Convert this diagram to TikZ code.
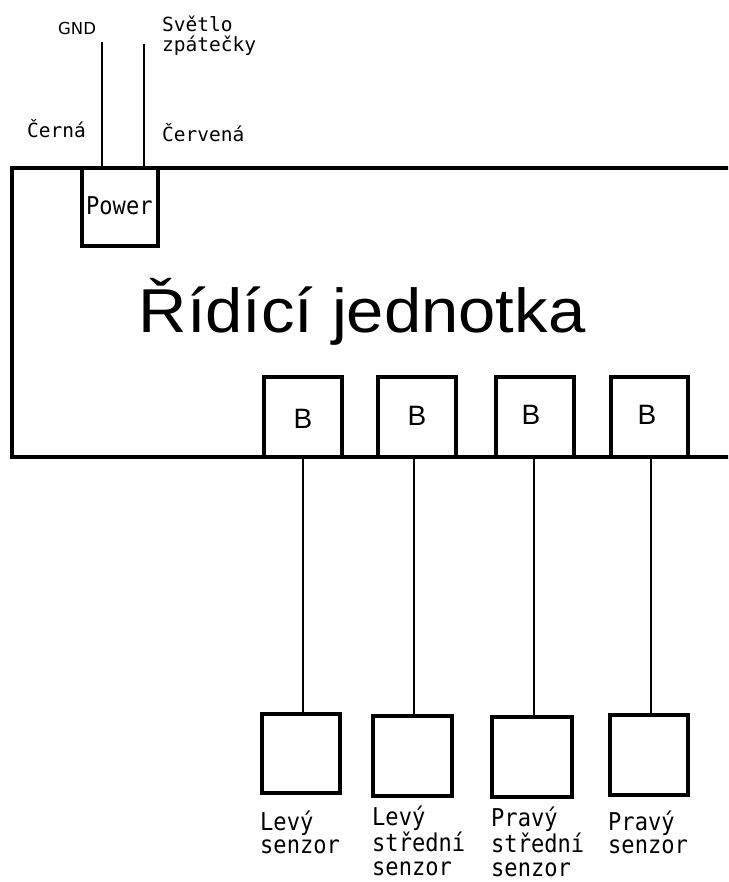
\documentclass[tikz,border=0pt]{standalone}
\usepackage{fontspec}
\setmainfont{Liberation Sans}
\newfontfamily\titlefont[FakeStretch=1.08]{Liberation Sans}
\newfontfamily\bigmono[FakeStretch=0.9]{DejaVu Sans Mono}
\newfontfamily\smallmono{DejaVu Sans Mono}
\newfontfamily\dvsans{DejaVu Sans}
\begin{document}
\begin{tikzpicture}[x=1pt,y=-1pt,
  thick box/.style={draw,line width=3.5pt,rectangle,inner sep=0pt},
  bbox/.style={thick box,minimum width=78pt,minimum height=80pt},
  sbox/.style={thick box,minimum width=78pt,minimum height=79pt},
  wire/.style={line width=1.5pt},
  toplabel/.style={inner sep=0pt,anchor=base west,align=left,font=\smallmono\fontsize{19.5}{20}\selectfont},
  senslabel/.style={inner sep=0pt,anchor=base west,align=left,font=\bigmono\fontsize{24.5}{23.5}\selectfont},
  blabel/.style={inner sep=0pt,anchor=base,font=\fontsize{28}{28}\selectfont}]
\useasboundingbox (0,0) rectangle (728,882);
\clip (0,0) rectangle (728,882);
\fill[white] (0,0) rectangle (728,882);
% main unit
\node[thick box,line width=4pt,minimum width=733pt,minimum height=289pt] (main) at (378.5,312.5) {};
\node[inner sep=0pt,anchor=base,font=\titlefont\fontsize{62}{62}\selectfont] (title) at (362,332) {Řídící jednotka};
% power box
\node[thick box,minimum width=76pt,minimum height=78pt] (power) at (120,207) {};
\node[inner sep=0pt,anchor=base west,font=\bigmono\fontsize{24.5}{24.5}\selectfont] (powert) at (86,215) {Power};
% wires to power
\coordinate (gndtop) at (102,42);
\coordinate (redtop) at (144,44);
\draw[wire] (gndtop) -- (gndtop |- main.north);
\draw[wire] (redtop) -- (redtop |- main.north);
\node[inner sep=0pt,anchor=base west,font=\dvsans\fontsize{16.5}{16.5}\selectfont] (gnd) at (58,35) {GND};
\node[toplabel] (svetlo) at (162,52) {Světlo\\zpátečky};
\node[toplabel] (cerna) at (27,138) {Černá};
\node[toplabel] (cervena) at (162,142) {Červená};
% B boxes
\node[bbox] (b1) at (303,417) {};
\node[bbox] (b2) at (417,417) {};
\node[bbox] (b3) at (535,417) {};
\node[bbox,minimum width=77pt] (b4) at (649.5,417) {};
\node[blabel] (bt1) at (303,428) {B};
\node[blabel] (bt2) at (417,425) {B};
\node[blabel] (bt3) at (531,424) {B};
\node[blabel] (bt4) at (647,424) {B};
% sensor boxes
\node[sbox] (s1) at (301,753.5) {};
\node[sbox,minimum width=79pt,minimum height=80pt] (s2) at (412.5,756) {};
\node[sbox,minimum width=80pt,minimum height=80pt] (s3) at (532,757) {};
\node[sbox,minimum height=80pt] (s4) at (649,755) {};
% connectors
\coordinate (l1) at (303,0);
\coordinate (l2) at (414,0);
\coordinate (l3) at (534,0);
\coordinate (l4) at (651,0);
\draw[wire] (l1 |- main.south) -- (l1 |- s1.north);
\draw[wire] (l2 |- main.south) -- (l2 |- s2.north);
\draw[wire] (l3 |- main.south) -- (l3 |- s3.north);
\draw[wire] (l4 |- main.south) -- (l4 |- s4.north);
% sensor labels (anchored at the baseline of the last line)
\node[senslabel] (t1) at (260,853.5) {Levý\\senzor};
\node[senslabel] (t2) at (372,875) {Levý\\střední\\senzor};
\node[senslabel] (t3) at (491,876) {Pravý\\střední\\senzor};
\node[senslabel] (t4) at (608,853.5) {Pravý\\senzor};
\end{tikzpicture}
\end{document}
